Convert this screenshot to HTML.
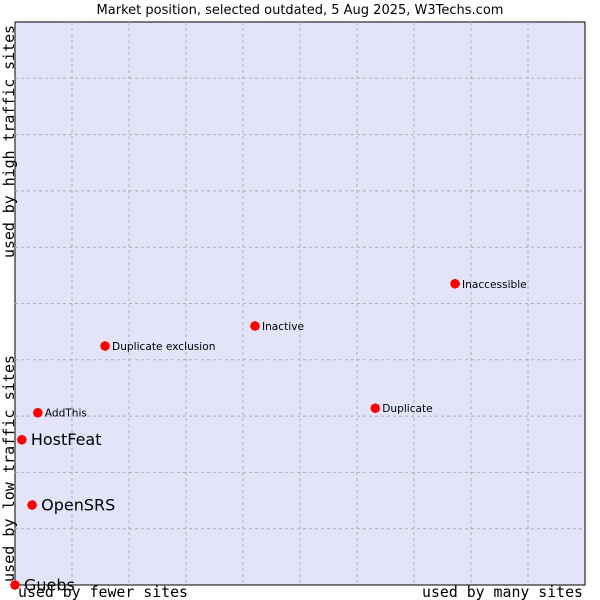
<!DOCTYPE html>
<html><head><meta charset="utf-8"><style>
body{margin:0;background:#fff;}
svg{display:block;}
</style></head><body>
<svg id="chart" width="600" height="600" xmlns="http://www.w3.org/2000/svg">
<text x="300" y="14" text-anchor="middle" font-family="DejaVu Sans, sans-serif" font-size="13" fill="#000">Market position, selected outdated, 5 Aug 2025, W3Techs.com</text>
<rect x="15" y="22" width="570" height="563" fill="#e3e4f8" stroke="#000" stroke-width="1"/>
<g id="grid"></g>
<g id="points"></g>
<text x="18" y="597" font-family="DejaVu Sans Mono, monospace" font-size="15" textLength="170" lengthAdjust="spacingAndGlyphs" fill="#000">used by fewer sites</text>
<text x="422" y="597" font-family="DejaVu Sans Mono, monospace" font-size="15" textLength="161" lengthAdjust="spacingAndGlyphs" fill="#000">used by many sites</text>
<text transform="translate(14,582) rotate(-90)" font-family="DejaVu Sans Mono, monospace" font-size="15" textLength="227" lengthAdjust="spacingAndGlyphs" fill="#000">used by low traffic sites</text>
<text transform="translate(14,258) rotate(-90)" font-family="DejaVu Sans Mono, monospace" font-size="15" textLength="233" lengthAdjust="spacingAndGlyphs" fill="#000">used by high traffic sites</text>
</svg>
<script>
const names = ["Guebs","HostFeat","OpenSRS","AddThis","Duplicate exclusion","Inactive","Duplicate","Inaccessible"];
const xValues = [0,1.2,3.0,4.0,15.8,42.1,63.2,77.2];
const yValues = [0,25.8,14.2,30.6,42.45,46.0,31.4,53.5];
const largeLabel = [true,true,true,false,false,false,false,false];
const L=15,R=585,T=22,B=585;
function sx(v){return L+v/100*(R-L);}
function sy(v){return B-v/100*(B-T);}
const NS="http://www.w3.org/2000/svg";
const grid=document.getElementById('grid');
for(let i=1;i<10;i++){
  const v=document.createElementNS(NS,'line');
  v.setAttribute('x1',sx(i*10));v.setAttribute('x2',sx(i*10));v.setAttribute('y1',T);v.setAttribute('y2',B);
  v.setAttribute('stroke','#b0b0b0');v.setAttribute('stroke-dasharray','3,3');
  
  
  grid.appendChild(v);
  const h=document.createElementNS(NS,'line');
  h.setAttribute('y1',sy(i*10));h.setAttribute('y2',sy(i*10));h.setAttribute('x1',L);h.setAttribute('x2',R);
  h.setAttribute('stroke','#b0b0b0');h.setAttribute('stroke-dasharray','3,3');
  
  
  grid.appendChild(h);
}
const pts=document.getElementById('points');
names.forEach((n,i)=>{
  const x=sx(xValues[i]),y=sy(yValues[i]);
  const d=document.createElementNS(NS,'polygon');
  d.setAttribute('points',`${x},${y-5} ${x+3.5},${y-3.5} ${x+5},${y} ${x+3.5},${y+3.5} ${x},${y+5} ${x-3.5},${y+3.5} ${x-5},${y} ${x-3.5},${y-3.5}`);
  d.setAttribute('fill','#ff0000');
  
  
  pts.appendChild(d);
  const t=document.createElementNS(NS,'text');
  const big=largeLabel[i];
  t.setAttribute('x',x+(big?9:7));
  t.setAttribute('y',y+(big?5.5:4));
  t.setAttribute('font-family','DejaVu Sans, sans-serif');
  t.setAttribute('font-size',big?'16':'10.6');
  t.setAttribute('fill','#000');
  t.textContent=n;
  
  
  pts.appendChild(t);
});
</script>
</body></html>
